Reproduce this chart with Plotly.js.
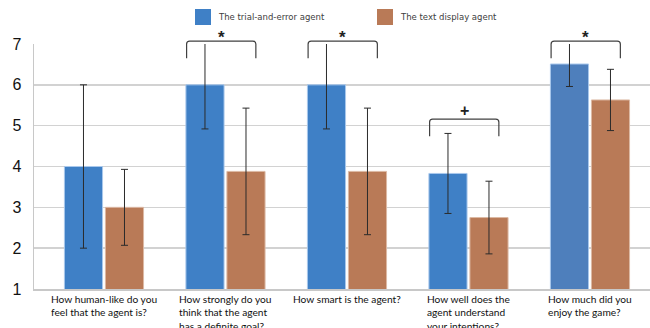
<!DOCTYPE html>
<html>
<head>
<meta charset="utf-8">
<script src="https://cdn.plot.ly/plotly-3.0.1.min.js"></script>
<style>html,body{margin:0;padding:0;background:#fff;}#chart{width:650px;height:328px;}</style>
</head>
<body>
<div id="chart"></div>
<script>
// ---- data ----
const categories = [
  "How human-like do you<br>feel that the agent is?",
  "How strongly do you<br>think that the agent<br>has a definite goal?",
  "How smart is the agent?",
  "How well does the<br>agent understand<br>your intentions?",
  "How much did you<br>enjoy the game?"
];
const seriesNames = ["The trial-and-error agent", "The text display agent"];
const trialMeans = [4.0, 6.0, 6.0, 3.83, 6.51];
const trialErr   = [2.0, 1.08, 1.08, 0.98, 0.55];
const textMeans  = [3.0, 3.88, 3.88, 2.75, 5.63];
const textErr    = [0.93, 1.55, 1.55, 0.89, 0.75];
const sigLabels  = ["", "*", "*", "+", "*"];
const sigLevel   = [null, 7.07, 7.07, 5.16, 7.07];
const yTickVals  = [1, 2, 3, 4, 5, 6, 7];

// ---- styles ----
const blue = ["#3f80c6", "#3f80c6", "#3f80c6", "#3f80c6", "#4e7fbc"];
const orange = "#b97a57";
const xRange = [-0.576, 4.494];
const yRange = [1, 7];
const M = {l: 34, r: 0, t: 44, b: 39};
const W = 650, H = 328;
const pw = W - M.l - M.r, ph = H - M.t - M.b;

function xp(v) { return (v - xRange[0]) / (xRange[1] - xRange[0]); }
function yp(v) { return (v - yRange[0]) / (yRange[1] - yRange[0]); }
function pxX(px) { return (px - M.l) / pw; }
function pxY(py) { return (H - M.b - py) / ph; }

const traces = [
  {
    type: "bar", name: seriesNames[0], x: categories, y: trialMeans,
    marker: {color: blue, line: {color: "#a9c8ec", width: 1}},
    error_y: {type: "data", array: trialErr, visible: true, color: "#2b2b2b", thickness: 1, width: 3.5}
  },
  {
    type: "bar", name: seriesNames[1], x: categories, y: textMeans,
    marker: {color: orange, line: {color: "#dcb9a4", width: 1}},
    error_y: {type: "data", array: textErr, visible: true, color: "#2b2b2b", thickness: 1, width: 3.5}
  }
];

const shapes = [];
const annotations = [];

// significance brackets
const bl = -0.32, br = 0.25, drop = 0.42;
const rx = 0.005, ry = 0.012;
sigLabels.forEach((lab, i) => {
  if (!lab) return;
  const x0 = xp(i + bl), x1 = xp(i + br);
  const yt = yp(sigLevel[i]), yb = yp(sigLevel[i] - drop);
  shapes.push({
    type: "path", xref: "paper", yref: "paper",
    path: `M${x0},${yb} L${x0},${yt - ry} Q${x0},${yt} ${x0 + rx},${yt} L${x1 - rx},${yt} Q${x1},${yt} ${x1},${yt - ry} L${x1},${yb}`,
    line: {color: "#404040", width: 1.2}
  });
  annotations.push({
    xref: "paper", yref: "paper", x: xp(i + (bl + br) / 2), y: yt,
    text: "<b>" + lab + "</b>", showarrow: false, xanchor: "center", yanchor: "bottom",
    yshift: lab === "*" ? -8 : -2,
    font: {family: "Liberation Sans, Arial, sans-serif", size: lab === "*" ? 17 : 16, color: "#222"}
  });
});

// category labels (left-aligned lines, block centred on category)
categories.forEach((c, i) => {
  annotations.push({
    xref: "paper", yref: "paper", x: xp(i), y: pxY(291),
    text: c, showarrow: false, xanchor: "center", yanchor: "top", align: "left",
    font: {family: "Lato, Liberation Sans, sans-serif", size: 10.2, color: "#111"}
  });
});

// custom legend
const legendItems = [
  {name: seriesNames[0], color: blue[0], x: 195},
  {name: seriesNames[1], color: orange, x: 377}
];
legendItems.forEach(it => {
  shapes.push({
    type: "rect", xref: "paper", yref: "paper",
    x0: pxX(it.x), x1: pxX(it.x + 16), y0: pxY(25), y1: pxY(9),
    fillcolor: it.color, line: {width: 0}
  });
  annotations.push({
    xref: "paper", yref: "paper", x: pxX(it.x + 21), y: pxY(17),
    text: it.name, showarrow: false, xanchor: "left", yanchor: "middle",
    font: {family: "DejaVu Sans, sans-serif", size: 8.5, color: "#404040"}
  });
});

const layout = {
  width: W, height: H,
  margin: M,
  paper_bgcolor: "#fff", plot_bgcolor: "#fff",
  showlegend: false,
  barmode: "group", bargap: 0.325, bargroupgap: 0.07,
  xaxis: {
    type: "category", range: xRange, showticklabels: false, ticks: "",
    showgrid: false, showline: true, linecolor: "#c8c8c8", linewidth: 1.5, zeroline: false
  },
  yaxis: {
    range: yRange, tickvals: yTickVals, showgrid: true, gridcolor: "#d2d2d2", gridwidth: 1.5,
    showline: true, linecolor: "#c8c8c8", linewidth: 1.5, zeroline: false,
    ticks: "", ticklabelstandoff: 8,
    tickfont: {family: "Liberation Sans, Arial, sans-serif", size: 16, color: "#111"}
  },
  shapes: shapes,
  annotations: annotations
};

Plotly.newPlot("chart", traces, layout, {displayModeBar: false, staticPlot: true});
</script>
</body>
</html>
